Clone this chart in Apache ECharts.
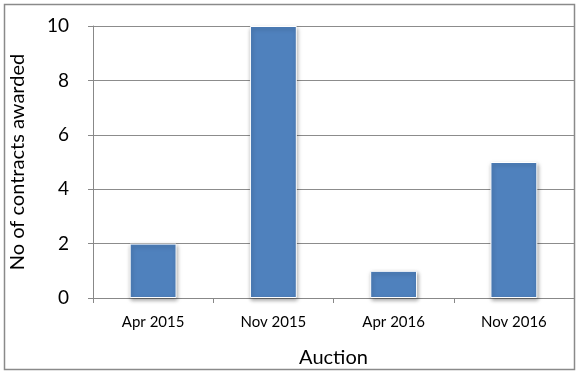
<!DOCTYPE html>
<html><head><meta charset="utf-8">
<script src="https://cdn.jsdelivr.net/npm/echarts@6/dist/echarts.min.js"></script>
<style>html,body{margin:0;padding:0;background:#fff}#c{width:581px;height:375px}</style>
</head><body><div id="c"></div>
<script>
const categories = ['Apr 2015', 'Nov 2015', 'Apr 2016', 'Nov 2016'];
const contracts = [2, 10, 1, 5];
const yTicks = [0, 2, 4, 6, 8, 10];

const chart = echarts.init(document.getElementById('c'), null, {renderer: 'canvas'});
const F = 'Lato, "Open Sans", sans-serif';
chart.setOption({
  animation: false,
  graphic: [{type: 'rect', shape: {x: 4.5, y: 4.5, width: 570, height: 365}, style: {fill: 'none', stroke: '#8a8a8a', lineWidth: 1.5}, silent: true}],
  grid: {left: 93, right: 7, top: 26, bottom: 77, containLabel: false, outerBoundsMode: 'none'},
  xAxis: {
    type: 'category', data: categories,
    name: 'Auction', nameLocation: 'middle', nameGap: 50,
    nameTextStyle: {fontFamily: F, fontSize: 20, color: '#000'},
    axisLine: {lineStyle: {color: '#888', width: 1}},
    axisTick: {show: true, alignWithLabel: false, length: 5, lineStyle: {color: '#888'}},
    axisLabel: {fontFamily: F, fontSize: 15, color: '#000', margin: 17}
  },
  yAxis: {
    type: 'value', min: 0, max: 10, interval: 2,
    name: 'No of contracts awarded', nameLocation: 'middle', nameGap: 65, nameRotate: 90,
    nameTextStyle: {fontFamily: F, fontSize: 20, color: '#000'},
    axisLine: {show: true, lineStyle: {color: '#888', width: 1}},
    axisTick: {show: true, length: 5, lineStyle: {color: '#888'}},
    axisLabel: {fontFamily: F, fontSize: 19, color: '#000', margin: 24,
      formatter: v => yTicks.includes(v) ? String(v) : ''},
    splitLine: {show: true, lineStyle: {color: '#8c8c8c', width: 1}}
  },
  series: [{
    type: 'bar', data: contracts, barWidth: '39%',
    itemStyle: {color: '#4F81BD', borderColor: '#ffffff', borderWidth: 1,
      shadowColor: 'rgba(0,0,0,0.35)', shadowBlur: 4, shadowOffsetX: 1, shadowOffsetY: 2}
  }]
});
</script></body></html>
